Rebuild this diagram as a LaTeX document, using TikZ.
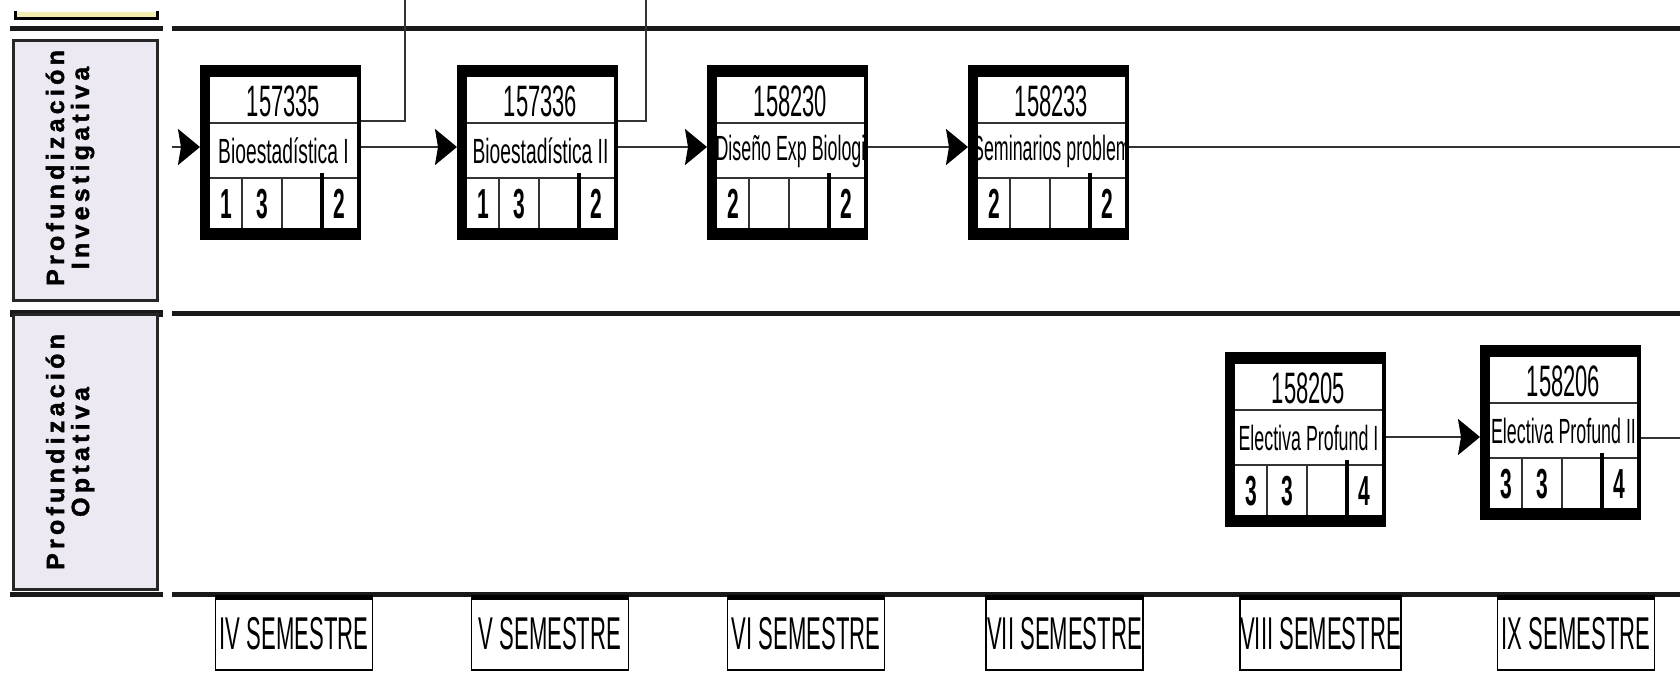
\documentclass[tikz,border=0pt]{standalone}
\usepackage{fontspec}
\setmainfont{Liberation Sans}
\newfontfamily\condA[FakeStretch=0.5]{Liberation Sans}
\newfontfamily\condB[FakeStretch=0.55]{Liberation Sans}
\newfontfamily\condC[FakeStretch=0.51]{Liberation Sans}
\newfontfamily\condS[FakeStretch=0.48]{Liberation Sans}
\newfontfamily\lanefont[LetterSpace=17,FakeBold=1.5]{Liberation Sans Bold}
\usetikzlibrary{arrows.meta,calc}
\definecolor{lanefill}{HTML}{ECE9F3}
\definecolor{topfill}{HTML}{F3EDB0}
\tikzset{
  conn/.style={line width=2.5pt, draw=black!80},
  thinconn/.style={line width=1.8pt, draw=black!80},
  arr/.style={conn, -{Stealth[length=22pt,width=36pt,inset=3pt,color=black]}},
  laneline/.style={line width=5pt, draw=black!90},
  lanebox/.style={draw=black!85, line width=3pt, fill=lanefill},
  lanetext/.style={rotate=90, align=center, inner sep=0pt, font=\lanefont\fontsize{25}{25}\selectfont},
  divider/.style={line width=1.4pt, draw=black!80},
  codetext/.style={inner sep=0pt, font=\condA\fontsize{44}{44}\selectfont},
  nametext/.style={inner sep=0pt, font=\condB\fontsize{35}{35}\selectfont},
  numtext/.style={inner sep=0pt, font=\condA\bfseries\fontsize{42}{42}\selectfont},
  semester/.style={draw, line width=1.8pt, minimum width=157pt, minimum height=72pt, inner sep=0pt, font=\condS\fontsize{46}{46}\selectfont},
}
% #1 name, #2 x, #3 y, #4 code, #5 title, #6 a, #7 b, #8 d, #9 connector offset
\newcommand{\course}[9]{%
  \begin{scope}[shift={(#2,#3)}]
    \node[anchor=north west, minimum width=161pt, minimum height=175pt, inner sep=0pt, fill=black] (#1) at (0,0) {};
    \fill[white] (10,12) rectangle (157,163);
    \draw[divider] (10,58) -- (157,58);
    \draw[divider] (10,113) -- (157,113);
    \draw[divider] (42,113) -- (42,163);
    \draw[divider] (82,113) -- (82,163);
    \draw[line width=4pt] (122,108) -- (122,163);
    \node[codetext] (#1-code) at (83.5,36) {#4};
    \begin{scope}
      \clip (10,58) rectangle (157,113);
      \node[nametext] (#1-name) at (83.5,86) {#5};
    \end{scope}
    \node[numtext] (#1-a) at (26,139) {#6};
    \node[numtext] (#1-b) at (62,139) {#7};
    \node[numtext] (#1-d) at (139.5,139) {#8};
    \coordinate (#1-in) at (0,#9);
    \coordinate (#1-out) at (161,#9);
    \coordinate (#1-up) at (161,56);
  \end{scope}}
\begin{document}
\begin{tikzpicture}[x=1pt,y=-1pt]
\useasboundingbox[fill=white] (0,0) rectangle (1680,673);
% top left remnant box
\fill[topfill] (15,12) rectangle (157,17);
\draw[line width=3pt] (15,11) -- (15,18) -- (157,18) -- (157,11);
% lane lines
\draw[laneline] (10,28) -- (163,28);
\draw[laneline] (172,28) -- (1680,28);
\draw[laneline, line width=7pt] (10,313) -- (163,313);
\draw[laneline] (172,313) -- (1680,313);
\draw[laneline] (10,594) -- (163,594);
\draw[laneline] (172,594) -- (1680,594);
% lane labels
\node[lanebox, minimum width=144pt, minimum height=260pt, inner sep=0pt] (L1) at (85,170) {};
\node[lanetext] (L1t) at (70,168) {Profundización\\Investigativa};
\node[lanebox, minimum width=144pt, minimum height=275pt, inner sep=0pt] (L2) at (85,452) {};
\node[lanetext] (L2t) at (70,452) {Profundización\\Optativa};
% courses
\course{c1}{200}{65}{157335}{Bioestadística I}{1}{3}{2}{82}
\course{c2}{457}{65}{157336}{Bioestadística II}{1}{3}{2}{82}
\course{c3}{707}{65}{158230}{\condC Diseño Exp Biologi}{2}{}{2}{82}
\course{c4}{968}{65}{158233}{\condC Seminarios problem}{2}{}{2}{82}
\course{c5}{1225}{352}{158205}{\condC Electiva Profund I}{3}{3}{4}{85}
\course{c6}{1480}{345}{158206}{\condC Electiva Profund II}{3}{3}{4}{93}
% connectors
\coordinate (s1) at (172,147);
\coordinate (e1) at (1680,147);
\coordinate (e2) at (1680,438);
\coordinate (u1) at (405,0);
\coordinate (u2) at (646,0);
\draw[arr] (s1) -- (c1-in);
\draw[arr] (c1-out) -- (c2-in);
\draw[arr] (c2-out) -- (c3-in);
\draw[arr] (c3-out) -- (c4-in);
\draw[conn] (c4-out) -- (e1);
\draw[arr] (c5-out) -- (c5-out -| c6.west);
\draw[conn] (c6-out) -- (e2);
\draw[thinconn] (c1-up) -| (u1);
\draw[thinconn] (c2-up) -| (u2);
% semesters
\node[semester] (s4) at (294,634) {IV SEMESTRE};
\node[semester] (s5) at (550,634) {V SEMESTRE};
\node[semester] (s6) at (806,634) {VI SEMESTRE};
\node[semester] (s7) at (1064.5,634) {VII SEMESTRE};
\node[semester] (s8) at (1320.5,634) {VIII SEMESTRE};
\node[semester] (s9) at (1576,634) {IX SEMESTRE};
\foreach \s in {s4,s5,s6,s7,s8,s9} {
  \draw[line width=5pt] (\s.north west) -- (\s.north east);
}
\end{tikzpicture}
\end{document}
